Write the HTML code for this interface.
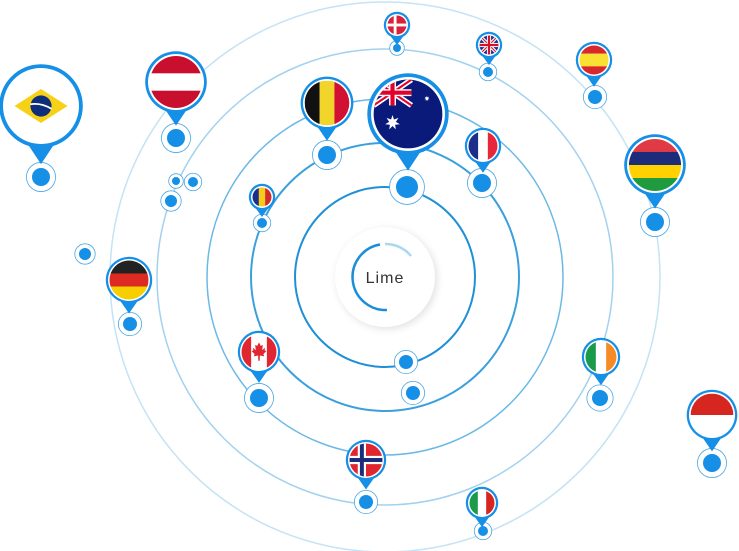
<!DOCTYPE html>
<html><head><meta charset="utf-8">
<style>
html,body{margin:0;padding:0;background:#fff;}
svg{display:block;}
</style></head>
<body>
<svg id="c" width="739" height="551" viewBox="0 0 739 551" xmlns="http://www.w3.org/2000/svg">
<defs>
<filter id="sh" x="-50%" y="-50%" width="200%" height="200%"><feGaussianBlur stdDeviation="4"/></filter>
</defs>
<g id="rings"></g>
<g id="center">
<circle cx="387" cy="279" r="50" fill="#000" opacity="0.12" filter="url(#sh)"/>
<circle cx="385" cy="277" r="50" fill="#fff"/>
<path d="M 385 244 A 33 33 0 0 1 411 256" fill="none" stroke="#a8d8f0" stroke-width="2.5"/>
<path d="M 380 244.5 A 33 33 0 0 0 387 310" fill="none" stroke="#1a8fd8" stroke-width="2.5"/>
<text x="385" y="283" text-anchor="middle" font-family="Liberation Sans, sans-serif" font-size="16" fill="#333" letter-spacing="1">Lime</text>
</g>
<g id="dots"></g>
<g id="pins"></g>
</svg>
<script>
const ringRadii = [90, 134, 178, 228, 275];
const ringColors = ['#1f8fd6', '#3aa0dd', '#6cb9e6', '#a2d2ef', '#c4e3f5'];
// pins: [name, flagX, flagY, flagR, dotX, dotY, dotR]
const pins = [
 ['brazil',41,106,38,41,177,9],
 ['austria',176,82,28,176,138,9],
 ['belgium',327,103,24,327,155,9],
 ['australia',408,114,37,407,187,11],
 ['denmark',397,25,11,397,48,4],
 ['uk',489,45,11,488,72,5],
 ['spain',594,60,16,595,97,7],
 ['france',483,146,16,482,183,9],
 ['mauritius',655,165,28,655,222,9],
 ['romania',262,197,11,262,223,5],
 ['germany',129,280,21,130,324,7],
 ['canada',259,352,19,259,398,9],
 ['ireland',601,357,17,600,398,8],
 ['indonesia',712,415,23,712,463,9],
 ['norway',366,460,18,366,502,7],
 ['italy',482,503,14,483,531,5]
];
const extraDots = [[176,181,4],[193,182,5],[171,201,6],[85,254,6],[406,362,7],[413,393,7]];
const CX=385, CY=277;
const NS='http://www.w3.org/2000/svg';
const rings=document.getElementById('rings');
ringRadii.forEach((r,i)=>{
  const c=document.createElementNS(NS,'circle');
  c.setAttribute('cx',CX);c.setAttribute('cy',CY);c.setAttribute('r',r);
  c.setAttribute('fill','none');c.setAttribute('stroke',ringColors[i]);c.setAttribute('stroke-width',i<2?2:1.5);
  
  
  rings.appendChild(c);
});
function stripesH(cols,w){let s='',y=-1;cols.forEach((c,i)=>{const h=2*(w?w[i]:1/cols.length);s+=`<rect x="-1" y="${y}" width="2" height="${h+0.01}" fill="${c}"/>`;y+=h;});return s;}
function stripesV(cols){let s='',x=-1;const w=2/cols.length;cols.forEach(c=>{s+=`<rect x="${x}" y="-1" width="${w+0.01}" height="2" fill="${c}"/>`;x+=w;});return s;}
function star(x,y,r){let p='';for(let i=0;i<14;i++){const a=-Math.PI/2+i*Math.PI/7;const rr=i%2?r*0.45:r;p+=(x+rr*Math.cos(a)).toFixed(3)+','+(y+rr*Math.sin(a)).toFixed(3)+' ';}return `<polygon points="${p}" fill="#fff"/>`;}
const flags={
 brazil:()=>`<rect x="-1" y="-1" width="2" height="2" fill="#fff"/><polygon points="-0.75,0 0,-0.48 0.75,0 0,0.48" fill="#f7d117"/><circle r="0.3" fill="#0d2e7a"/><path d="M-0.3,-0.05 Q0,-0.1 0.3,0.08" stroke="#fff" stroke-width="0.05" fill="none"/>`,
 austria:()=>stripesH(['#c8102e','#fff','#c8102e']),
 belgium:()=>stripesV(['#111','#f2d52a','#d21034']),
 australia:()=>`<rect x="-1" y="-1" width="2" height="2" fill="#0a1a7a"/><g><rect x="-1" y="-1" width="1.1" height="0.75" fill="#0a1a7a"/><path d="M-1,-1 L0.1,-0.25 M0.1,-1 L-1,-0.25" stroke="#fff" stroke-width="0.16"/><path d="M-1,-1 L0.1,-0.25 M0.1,-1 L-1,-0.25" stroke="#e4002b" stroke-width="0.06"/><rect x="-1" y="-0.72" width="1.1" height="0.2" fill="#fff"/><rect x="-0.55" y="-1" width="0.2" height="0.75" fill="#fff"/><rect x="-1" y="-0.68" width="1.1" height="0.12" fill="#e4002b"/><rect x="-0.51" y="-1" width="0.12" height="0.75" fill="#e4002b"/></g>${star(-0.45,0.25,0.22)}${star(0.55,-0.45,0.08)}`,
 denmark:()=>`<rect x="-1" y="-1" width="2" height="2" fill="#d9213a"/><rect x="-1" y="-0.15" width="2" height="0.3" fill="#fff"/><rect x="-0.35" y="-1" width="0.3" height="2" fill="#fff"/>`,
 uk:()=>`<rect x="-1" y="-1" width="2" height="2" fill="#1d2f8f"/><path d="M-1,-1 L1,1 M1,-1 L-1,1" stroke="#fff" stroke-width="0.35"/><path d="M-1,-1 L1,1 M1,-1 L-1,1" stroke="#cf142b" stroke-width="0.12"/><rect x="-1" y="-0.22" width="2" height="0.44" fill="#fff"/><rect x="-0.22" y="-1" width="0.44" height="2" fill="#fff"/><rect x="-1" y="-0.12" width="2" height="0.24" fill="#cf142b"/><rect x="-0.12" y="-1" width="0.24" height="2" fill="#cf142b"/>`,
 spain:()=>stripesH(['#d8282e','#f8e133','#d8282e'],[0.28,0.44,0.28]),
 france:()=>stripesV(['#1a2e8a','#fff','#e8283a']),
 mauritius:()=>stripesH(['#e03a45','#1c2b7a','#ffd100','#1f9a3f']),
 romania:()=>stripesV(['#1a2e8a','#f6cc18','#d22b2b']),
 germany:()=>stripesH(['#222','#dd2b24','#f7ce00']),
 canada:()=>`<rect x="-1" y="-1" width="2" height="2" fill="#fff"/><rect x="-1" y="-1" width="0.55" height="2" fill="#e0262e"/><rect x="0.45" y="-1" width="0.55" height="2" fill="#e0262e"/><polygon points="0,-0.55 0.1,-0.35 0.22,-0.4 0.18,-0.1 0.35,-0.25 0.32,-0.1 0.42,-0.05 0.25,0.12 0.3,0.25 0.05,0.2 0.04,0.5 -0.04,0.5 -0.05,0.2 -0.3,0.25 -0.25,0.12 -0.42,-0.05 -0.32,-0.1 -0.35,-0.25 -0.18,-0.1 -0.22,-0.4 -0.1,-0.35" fill="#e0262e"/>`,
 ireland:()=>stripesV(['#1a9a4a','#fff','#f58a27']),
 indonesia:()=>stripesH(['#d7261f','#fff']),
 norway:()=>`<rect x="-1" y="-1" width="2" height="2" fill="#e0262e"/><rect x="-1" y="-0.25" width="2" height="0.5" fill="#fff"/><rect x="-0.5" y="-1" width="0.5" height="2" fill="#fff"/><rect x="-1" y="-0.12" width="2" height="0.24" fill="#1c2b7a"/><rect x="-0.37" y="-1" width="0.24" height="2" fill="#1c2b7a"/>`,
 italy:()=>stripesV(['#1a9a4a','#fff','#d7261f'])
};
const BLUE='#168fe6';
function drawDot(g,x,y,r,name){
  const ring=document.createElementNS(NS,'circle');
  ring.setAttribute('cx',x);ring.setAttribute('cy',y);ring.setAttribute('r',r+r*0.45+1.5);
  ring.setAttribute('fill','#fff');ring.setAttribute('stroke','#4aa6e4');ring.setAttribute('stroke-width',0.8);
  
  
  g.appendChild(ring);
  const d=document.createElementNS(NS,'circle');
  d.setAttribute('cx',x);d.setAttribute('cy',y);d.setAttribute('r',r);d.setAttribute('fill',BLUE);
  
  
  g.appendChild(d);
}
const dots=document.getElementById('dots');
extraDots.forEach((e,i)=>drawDot(dots,e[0],e[1],e[2],'extra-'+i));
const pg=document.getElementById('pins');
pins.forEach(p=>{
  const [name,fx,fy,fr,dx,dy,dr]=p;
  drawDot(dots,dx,dy,dr,name);
  const g=document.createElementNS(NS,'g');
  
  
  const bw=Math.max(2.2,fr*0.1);
  const R=fr+bw;
  const tipY=fy+R+fr*0.35+3;
  const tw=fr*0.35+3;
  const cid='clip-'+name;
  g.innerHTML=`<clipPath id="${cid}"><circle cx="0" cy="0" r="1"/></clipPath>`+
   `<polygon points="${fx-tw},${fy+R*0.8} ${fx+tw},${fy+R*0.8} ${fx},${tipY}" fill="${BLUE}"/>`+
   `<circle cx="${fx}" cy="${fy}" r="${R}" fill="${BLUE}"/>`+
   `<circle cx="${fx}" cy="${fy}" r="${fr}" fill="#fff"/>`+
   `<g transform="translate(${fx},${fy}) scale(${fr-Math.max(1.5,fr*0.07)})"><g clip-path="url(#${cid})">${flags[name]()}</g></g>`;
  pg.appendChild(g);
});
</script>
</body></html>
